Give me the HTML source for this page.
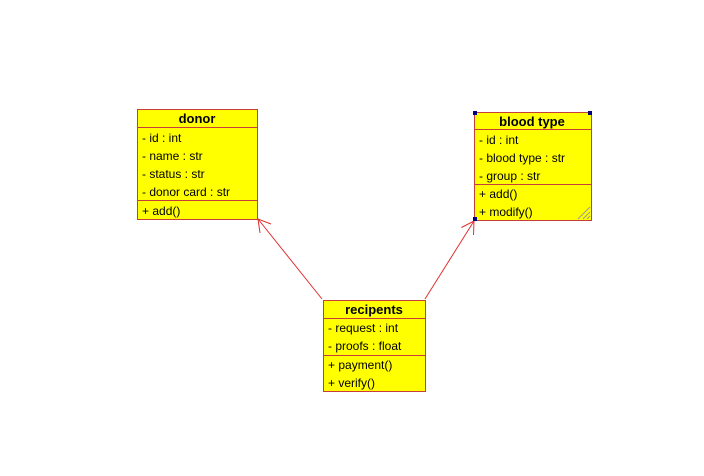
<!DOCTYPE html>
<html><head><style>body{margin:0;background:#fff}svg{display:block}text{font-family:"Liberation Sans",Arial,sans-serif;font-size:12px;fill:#000}.b{font-weight:bold;font-size:13px}</style></head><body>
<svg width="704" height="476" viewBox="0 0 704 476">
<g stroke="#e03030" stroke-width="1" fill="none">
<line x1="322" y1="299" x2="258" y2="219"/>
<polyline points="260,233 258,219 271,224"/>
<line x1="425" y1="299" x2="474" y2="221"/>
<polyline points="461.5,227.5 474,221 473.5,235"/>
</g>
<g fill="#ffff00" stroke="#c83c3c">
<rect x="137.5" y="109.5" width="120" height="110"/>
<line x1="137" y1="127.5" x2="257" y2="127.5"/>
<line x1="137" y1="200.5" x2="257" y2="200.5"/>
<rect x="474.5" y="112.5" width="117" height="108"/>
<line x1="474" y1="129.5" x2="591" y2="129.5"/>
<line x1="474" y1="184.5" x2="591" y2="184.5"/>
<rect x="323.5" y="300.5" width="102" height="91"/>
<line x1="323" y1="318.5" x2="425" y2="318.5"/>
<line x1="323" y1="355.5" x2="425" y2="355.5"/>
</g>
<g fill="#000080"><rect x="473" y="111" width="4" height="4"/><rect x="588" y="111" width="4" height="4"/><rect x="473" y="217" width="4" height="4"/></g>
<g stroke="#999" stroke-width="1"><line x1="578" y1="219" x2="590" y2="207"/><line x1="583" y1="219" x2="590" y2="212"/><line x1="587" y1="219" x2="590" y2="216"/></g>
<text class="b" x="197" y="123" text-anchor="middle">donor</text>
<text x="142" y="142">- id : int</text>
<text x="142" y="160">- name : str</text>
<text x="142" y="178">- status : str</text>
<text x="142" y="196">- donor card : str</text>
<text x="142" y="215">+ add()</text>
<text class="b" x="532" y="126" text-anchor="middle">blood type</text>
<text x="479" y="144">- id : int</text>
<text x="479" y="162">- blood type : str</text>
<text x="479" y="180">- group : str</text>
<text x="479" y="198">+ add()</text>
<text x="479" y="216">+ modify()</text>
<text class="b" x="374" y="314" text-anchor="middle">recipents</text>
<text x="328" y="332">- request : int</text>
<text x="328" y="350">- proofs : float</text>
<text x="328" y="369">+ payment()</text>
<text x="328" y="387">+ verify()</text>
</svg>
</body></html>
